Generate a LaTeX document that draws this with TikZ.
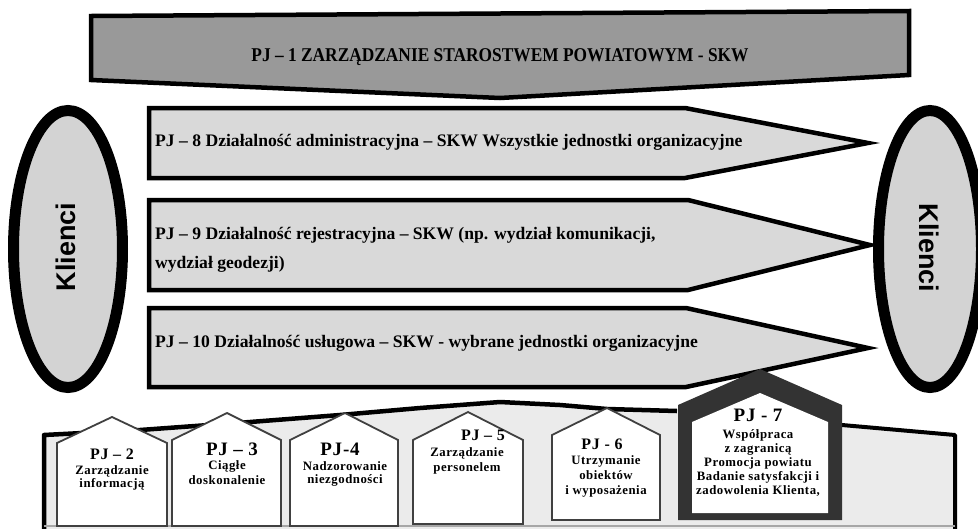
\documentclass[tikz,border=0pt]{standalone}
\usepackage{fontspec}
\setmainfont{Liberation Serif}
\newfontfamily\klfont{Liberation Sans}
\newfontfamily\housefont{Liberation Serif}[LetterSpace=4]
\newfontfamily\titlefont{Liberation Serif}[FakeStretch=0.89]
\definecolor{pjonegray}{HTML}{999999}
\definecolor{rowgray}{HTML}{D9D9D9}
\definecolor{ellgray}{HTML}{D3D3D3}
\definecolor{basegray}{HTML}{EBEBEB}
\definecolor{housedark}{HTML}{333333}
\definecolor{houseline}{HTML}{404040}
\newcommand\fsz[1]{\fontsize{#1}{#1}\selectfont}
\tikzset{
  pjone/.style={fill=pjonegray, draw=black, line width=4.5pt, line join=miter},
  rowarrow/.style={fill=rowgray, draw=black, line width=4.5pt, line join=miter},
  klient/.style={fill=ellgray, draw=black, line width=11pt},
  basebox/.style={draw=black, line width=4.5pt, line join=round},
  house/.style={fill=white, draw=houseline, line width=1.8pt},
  rowtext/.style={anchor=base west, inner sep=0pt, font=\fsz{17.6}\bfseries},
  kltext/.style={inner sep=0pt, font=\klfont\fsz{27}\bfseries},
  hhead/.style={anchor=base, inner sep=0pt},
  hsub/.style={anchor=base, inner sep=0pt, font=\housefont\fsz{12.8}\bfseries},
}
\begin{document}
\begin{tikzpicture}[x=1pt, y=-1pt]
\path[use as bounding box, fill=white] (0,0) rectangle (978,528);
\begin{scope}
\clip (0,0) rectangle (978,528);
% PJ-1
\draw[pjone] (91,16) -- (909,11) -- (909,75) -- (500,98) -- (91,80) -- cycle;
\node[anchor=base, inner sep=0pt, font=\titlefont\fsz{19.5}\bfseries] (pj1) at (500,61) {PJ – 1 ZARZĄDZANIE STAROSTWEM POWIATOWYM - SKW};
% clients
\draw[klient] (68,249) ellipse [x radius=54.5, y radius=138.5];
\node[kltext, rotate=90] (kltxt) at (66,247) {Klienci};
\draw[klient] (930,249) ellipse [x radius=51.5, y radius=138.5];
\node[kltext, rotate=-90] (krtxt) at (929,248) {Klienci};
% rows
\draw[rowarrow] (149,108) -- (685,108) -- (868,143) -- (685,178) -- (149,178) -- cycle;
\node[rowtext] (pj8) at (155,146) {PJ – 8 Działalność administracyjna – SKW Wszystkie jednostki organizacyjne};
\draw[rowarrow] (149,200) -- (688,200) -- (870,245) -- (688,290) -- (149,290) -- cycle;
\node[rowtext] (pj9a) at (155,239) {PJ – 9 Działalność rejestracyjna – SKW (np. wydział komunikacji,};
\node[rowtext] (pj9b) at (155,268) {wydział geodezji)};
\draw[rowarrow] (149,308) -- (686,308) -- (868,348) -- (686,387) -- (149,387) -- cycle;
\node[rowtext] (pj10) at (155,347) {PJ – 10 Działalność usługowa – SKW - wybrane jednostki organizacyjne};
% base
\fill[basegray] (44,540) -- (44,435) -- (140,430) -- (250,422) -- (340,415) -- (420,408) -- (500,402) -- (560,405) -- (607,409) -- (677,411) -- (842,425) -- (955,435) -- (955,540) -- cycle;
\draw[basebox] (44,540) -- (44,435) -- (140,430) -- (250,422) -- (340,415) -- (420,408) -- (500,402) -- (560,405) -- (607,409) -- (677,411);
\draw[basebox, line width=4pt] (842,425) -- (955,435) -- (955,540);
\draw[gray!70, line width=1.2pt] (44,526) -- (955,526);
% houses
\draw[house] (57,526) -- (57,443) -- (112,417) -- (167,443) -- (167,526) -- cycle;
\draw[house] (172,526) -- (172,440) -- (227,413) -- (281,440) -- (281,526) -- cycle;
\draw[house] (290,526) -- (290,440) -- (345,413) -- (398,440) -- (398,526) -- cycle;
\draw[house] (413,524) -- (413,440) -- (468,412) -- (523,440) -- (523,524) -- cycle;
\draw[house] (552,520) -- (552,435) -- (607,408) -- (660,435) -- (660,520) -- cycle;
\fill[housedark] (678,520) -- (678,405) -- (760,369) -- (842,405) -- (842,520) -- cycle;
\fill[white] (692,513) -- (692,422) -- (760,393) -- (828,422) -- (828,513) -- cycle;
% house texts
\node[hhead, font=\housefont\fsz{16}\bfseries] (h2) at (112,459) {PJ – 2};
\node[hsub] (h2a) at (112,474) {Zarządzanie};
\node[hsub] (h2b) at (112,487) {informacją};
\node[hhead, font=\housefont\fsz{19}\bfseries] (h3) at (232,455) {PJ – 3};
\node[hsub] (h3a) at (227,469) {Ciągłe};
\node[hsub] (h3b) at (227,484) {doskonalenie};
\node[hhead, font=\housefont\fsz{19}\bfseries] (h4) at (340,455) {PJ-4};
\node[hsub] (h4a) at (345,470) {Nadzorowanie};
\node[hsub] (h4b) at (345,483) {niezgodności};
\node[hhead, font=\housefont\fsz{16}\bfseries] (h5) at (483,440) {PJ – 5};
\node[hsub] (h5a) at (467,456) {Zarządzanie};
\node[hsub] (h5b) at (467,471) {personelem};
\node[hhead, font=\housefont\fsz{16}\bfseries] (h6) at (602,449) {PJ - 6};
\node[hsub] (h6a) at (606,464) {Utrzymanie};
\node[hsub] (h6b) at (606,479) {obiektów};
\node[hsub] (h6c) at (606,494) {i wyposażenia};
\node[hhead, font=\housefont\fsz{19}\bfseries] (h7) at (758,421) {PJ - 7};
\node[hsub] (h7a) at (758,438) {Współpraca};
\node[hsub] (h7b) at (758,452) {z zagranicą};
\node[hsub] (h7c) at (758,466) {Promocja powiatu};
\node[hsub] (h7d) at (758,480) {Badanie satysfakcji i};
\node[hsub] (h7e) at (758,494) {zadowolenia Klienta,};
\end{scope}
\end{tikzpicture}
\end{document}
